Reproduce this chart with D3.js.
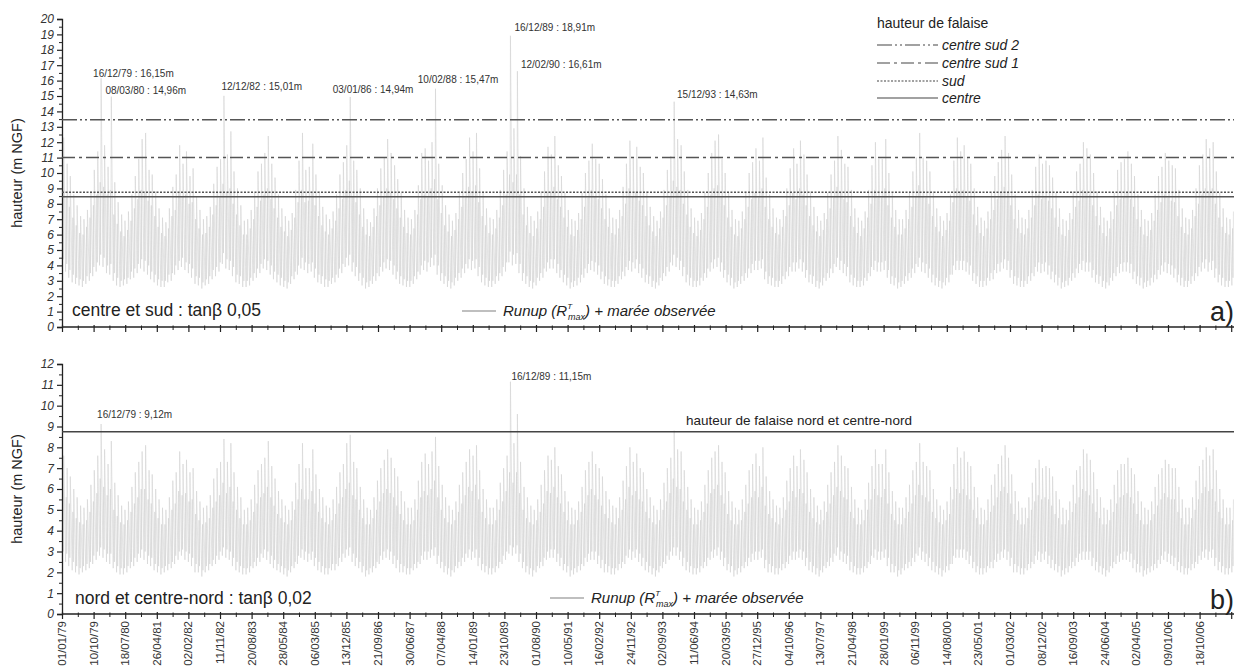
<!DOCTYPE html>
<html><head><meta charset="utf-8">
<script src="https://cdn.jsdelivr.net/npm/d3@7"></script>
<style>
body{margin:0;background:#fff;}
svg{display:block;font-family:"Liberation Sans",Arial,sans-serif;}
</style></head>
<body><svg id="c" width="1234" height="672"></svg>
<script>
// ---------- DATA ----------
const tickLabels = ["01/01/79","10/10/79","18/07/80","26/04/81","02/02/82","11/11/82","20/08/83","28/05/84","06/03/85","13/12/85","21/09/86","30/06/87","07/04/88","14/01/89","23/10/89","01/08/90","10/05/91","16/02/92","24/11/92","02/09/93","11/06/94","20/03/95","27/12/95","04/10/96","13/07/97","21/04/98","28/01/99","06/11/99","14/08/00","23/05/01","01/03/02","08/12/02","16/09/03","24/06/04","02/04/05","09/01/06","18/10/06"];
const seriesStart = "01/01/79";   // first month of the monthly series
const axisEnd = "21/08/07";

// panel a (centre et sud, tanβ 0,05), Jan 1979 → Aug 2007, one row per year
// highest peak of each month
const topMax = [
12.3,10.6,9.8,8.6,7.9,7.2,7.0,7.6,8.8,10.2,11.4,16.15,
11.8,10.4,14.96,9.4,8.1,7.3,6.9,7.5,8.6,9.8,10.9,12.2,
12.6,10.2,9.9,8.8,7.7,7.1,6.8,7.7,9.1,9.9,11.8,10.6,
11.4,9.8,10.3,8.5,7.6,7.0,7.2,7.8,9.3,10.4,10.9,15.01,
11.2,12.7,10.1,9.0,7.9,6.9,7.0,7.6,8.7,10.1,10.6,11.3,
12.4,10.6,9.7,8.6,7.7,7.2,6.9,7.4,8.9,10.8,12.6,10.2,
10.4,11.9,9.9,8.8,7.8,7.3,7.0,7.5,8.6,9.9,10.7,11.8,
14.94,10.8,10.2,9.0,7.7,7.0,6.8,7.7,9.0,10.3,11.0,12.2,
11.3,10.5,9.6,8.7,7.6,7.1,7.0,7.6,9.2,11.3,11.6,10.8,
12.0,15.47,10.6,9.2,7.9,7.3,6.9,7.4,8.8,10.0,10.9,12.3,
11.4,12.6,10.3,8.8,7.7,7.1,7.0,7.6,8.9,10.2,11.4,18.91,
12.9,16.61,11.1,9.0,7.8,7.2,6.9,7.5,8.8,10.1,11.7,11.2,
12.4,10.5,9.8,8.7,7.6,7.0,6.9,7.4,8.7,10.0,10.8,11.9,
10.9,10.6,9.6,8.6,7.7,7.1,7.0,7.6,9.1,10.6,12.1,11.0,
11.7,10.4,10.0,8.8,7.8,7.2,6.9,7.5,8.9,10.2,11.1,14.63,
12.2,11.8,10.1,8.9,7.7,7.1,6.9,7.4,8.7,10.0,11.3,12.1,
12.5,10.9,10.0,8.7,7.6,7.0,6.9,7.5,8.8,10.0,10.7,11.6,
10.8,12.3,9.7,8.6,7.7,7.1,7.0,7.6,9.0,10.3,11.6,10.6,
12.1,11.2,9.9,8.8,7.8,7.2,6.9,7.4,8.7,9.9,10.8,12.4,
11.5,10.6,10.4,8.9,7.7,7.1,6.9,7.5,8.9,10.5,12.0,10.9,
10.9,12.2,10.0,8.7,7.6,7.0,7.0,7.6,8.8,10.1,11.0,12.6,
11.0,10.8,10.1,8.8,7.7,7.2,6.9,7.4,8.6,10.8,12.3,11.4,
11.8,11.0,10.6,9.0,7.8,7.1,6.9,7.5,8.7,9.8,10.7,11.5,
12.4,11.3,9.9,8.6,7.6,7.1,7.0,7.6,8.9,10.4,11.2,10.6,
10.8,10.5,9.7,8.7,7.7,7.0,6.9,7.4,8.8,10.1,10.6,12.0,
11.6,11.2,10.0,8.8,7.8,7.1,6.9,7.5,8.7,10.2,10.7,10.9,
11.4,10.6,9.8,8.6,7.6,7.0,6.9,7.4,8.6,9.8,10.4,11.3,
10.8,10.5,10.3,8.9,7.7,7.1,7.0,7.6,9.0,10.5,11.2,12.2,
11.6,12.0,10.1,8.7,7.7,7.1,7.0,7.5];
// secondary peak of each month
const topMid = [
8.9,8.4,7.8,7.1,6.6,6.1,6.0,6.5,7.1,7.9,8.6,9.4,
9.1,8.6,8.9,7.3,6.7,6.2,5.9,6.3,6.9,7.7,8.3,8.9,
8.8,8.2,7.9,7.2,6.5,6.1,5.9,6.4,7.2,7.6,8.7,8.5,
8.6,8.0,8.1,7.0,6.4,6.0,6.1,6.5,7.3,7.9,8.4,9.3,
8.7,9.0,8.0,7.3,6.6,6.0,6.0,6.4,7.0,7.8,8.2,8.6,
9.0,8.3,7.7,7.1,6.5,6.2,5.9,6.3,7.1,8.1,8.9,8.1,
8.2,8.8,7.9,7.2,6.6,6.2,6.0,6.4,6.9,7.7,8.3,8.9,
9.5,8.5,8.1,7.3,6.5,6.0,5.9,6.5,7.2,7.9,8.5,9.0,
8.7,8.3,7.7,7.1,6.5,6.1,6.0,6.4,7.3,8.3,8.6,8.4,
9.0,9.6,8.3,7.4,6.6,6.2,5.9,6.3,7.0,7.8,8.4,9.1,
8.8,9.2,8.1,7.2,6.6,6.1,6.0,6.4,7.1,7.9,8.6,9.9,
9.4,9.9,8.6,7.3,6.6,6.1,5.9,6.4,7.0,7.8,8.8,8.7,
9.1,8.3,7.8,7.1,6.5,6.0,5.9,6.3,7.0,7.8,8.4,8.9,
8.5,8.3,7.7,7.0,6.5,6.1,6.0,6.4,7.2,8.0,9.0,8.5,
8.8,8.2,7.9,7.2,6.6,6.2,5.9,6.4,7.1,7.9,8.5,9.5,
9.1,8.9,8.0,7.3,6.5,6.1,5.9,6.3,7.0,7.8,8.6,9.0,
9.2,8.5,7.9,7.1,6.5,6.0,5.9,6.4,7.0,7.8,8.3,8.7,
8.4,9.0,7.8,7.0,6.5,6.1,6.0,6.5,7.2,7.9,8.7,8.3,
9.0,8.6,7.9,7.2,6.6,6.2,5.9,6.3,7.0,7.7,8.4,9.1,
8.7,8.3,8.1,7.2,6.5,6.1,5.9,6.4,7.1,8.0,8.9,8.4,
8.4,9.0,7.9,7.1,6.5,6.0,6.0,6.4,7.0,7.8,8.5,9.2,
8.5,8.4,8.0,7.2,6.5,6.2,5.9,6.3,6.9,8.1,9.0,8.7,
8.9,8.5,8.2,7.3,6.6,6.1,5.9,6.4,7.0,7.6,8.3,8.7,
9.1,8.7,7.9,7.0,6.4,6.1,6.0,6.4,7.1,7.9,8.6,8.3,
8.4,8.2,7.7,7.1,6.5,6.0,5.9,6.3,7.0,7.8,8.2,8.9,
8.8,8.6,7.9,7.2,6.6,6.1,5.9,6.4,7.0,7.9,8.3,8.4,
8.7,8.3,7.8,7.0,6.5,6.0,5.9,6.3,6.9,7.6,8.1,8.6,
8.4,8.2,8.1,7.2,6.5,6.1,6.0,6.4,7.2,8.0,8.6,9.0,
8.8,9.0,8.0,7.1,6.5,6.1,6.0,6.4];
// lowest value, first half of each month
const topMin = [
3.8,3.6,3.2,2.9,2.8,2.7,2.6,2.8,3.0,3.3,3.6,4.0,
3.9,3.5,3.4,3.0,2.7,2.6,2.7,2.8,3.1,3.2,3.5,3.8,
3.6,3.4,3.1,2.9,2.7,2.6,2.6,2.9,3.0,3.4,3.7,3.9,
3.7,3.5,3.2,2.8,2.7,2.5,2.7,2.8,3.1,3.3,3.6,4.1,
3.8,3.7,3.3,2.9,2.8,2.6,2.6,2.7,3.0,3.2,3.5,3.8,
3.7,3.4,3.1,2.9,2.7,2.6,2.5,2.8,3.1,3.4,3.8,3.7,
3.5,3.6,3.2,2.9,2.8,2.6,2.6,2.8,2.9,3.2,3.5,3.9,
4.0,3.6,3.3,3.0,2.7,2.5,2.6,2.8,3.0,3.3,3.6,3.8,
3.7,3.4,3.1,2.8,2.7,2.6,2.6,2.8,3.1,3.4,3.7,3.6,
3.9,4.0,3.4,3.0,2.8,2.6,2.5,2.7,3.0,3.2,3.5,3.8,
3.7,3.8,3.3,2.9,2.7,2.6,2.6,2.8,3.0,3.3,3.6,4.2,
4.0,4.1,3.5,3.0,2.8,2.6,2.5,2.7,3.0,3.2,3.6,3.8,
3.8,3.5,3.2,2.9,2.7,2.5,2.6,2.7,2.9,3.2,3.5,3.7,
3.6,3.4,3.1,2.8,2.7,2.6,2.6,2.8,3.1,3.3,3.7,3.6,
3.8,3.5,3.2,2.9,2.8,2.6,2.5,2.7,3.0,3.3,3.6,4.0,
3.9,3.7,3.3,2.9,2.7,2.6,2.6,2.7,3.0,3.2,3.6,3.8,
3.9,3.6,3.2,2.9,2.7,2.5,2.6,2.8,3.0,3.2,3.5,3.7,
3.7,3.8,3.1,2.8,2.7,2.6,2.6,2.8,3.1,3.3,3.6,3.6,
3.8,3.6,3.2,2.9,2.8,2.6,2.5,2.7,3.0,3.2,3.5,3.9,
3.7,3.5,3.3,2.9,2.7,2.6,2.6,2.7,3.0,3.3,3.7,3.6,
3.6,3.7,3.2,2.8,2.7,2.5,2.6,2.8,3.0,3.2,3.5,3.9,
3.6,3.5,3.2,2.9,2.7,2.6,2.5,2.7,2.9,3.4,3.7,3.7,
3.7,3.6,3.4,3.0,2.8,2.6,2.6,2.7,3.0,3.1,3.5,3.6,
3.8,3.7,3.2,2.8,2.7,2.6,2.6,2.8,3.0,3.3,3.6,3.5,
3.6,3.4,3.1,2.9,2.7,2.5,2.6,2.7,3.0,3.2,3.5,3.7,
3.6,3.6,3.2,2.9,2.8,2.6,2.5,2.7,3.0,3.3,3.5,3.6,
3.6,3.5,3.1,2.8,2.7,2.5,2.6,2.7,2.9,3.1,3.4,3.6,
3.5,3.4,3.2,2.9,2.7,2.6,2.6,2.8,3.0,3.3,3.6,3.8,
3.6,3.7,3.2,2.9,2.7,2.6,2.6,2.7];
// lowest value, second half of each month
const topLow2 = [
4.4,4.1,3.7,3.4,3.2,3.1,3.0,3.3,3.5,3.9,4.2,4.7,
4.5,4.0,4.1,3.5,3.2,3.0,3.1,3.2,3.6,3.8,4.1,4.4,
4.3,4.0,3.6,3.4,3.1,3.0,3.0,3.4,3.5,4.0,4.3,4.5,
4.2,4.1,3.8,3.3,3.2,2.9,3.1,3.3,3.7,3.9,4.2,4.8,
4.4,4.3,3.9,3.4,3.3,3.0,3.0,3.2,3.5,3.8,4.1,4.4,
4.3,4.0,3.6,3.4,3.2,3.0,2.9,3.3,3.6,4.0,4.5,4.2,
4.1,4.2,3.8,3.4,3.3,3.1,3.0,3.2,3.4,3.8,4.1,4.5,
4.7,4.2,3.9,3.5,3.2,2.9,3.0,3.3,3.5,3.9,4.2,4.4,
4.3,4.0,3.6,3.3,3.1,3.0,3.0,3.3,3.6,4.0,4.3,4.2,
4.5,4.7,4.0,3.5,3.3,3.0,2.9,3.2,3.5,3.8,4.1,4.4,
4.3,4.4,3.9,3.4,3.2,3.0,3.0,3.3,3.5,3.9,4.2,4.9,
4.7,4.8,4.1,3.5,3.3,3.0,2.9,3.2,3.5,3.8,4.2,4.4,
4.4,4.1,3.7,3.4,3.2,2.9,3.0,3.2,3.4,3.8,4.1,4.3,
4.2,4.0,3.6,3.3,3.1,3.0,3.0,3.3,3.6,3.9,4.3,4.2,
4.4,4.1,3.8,3.4,3.3,3.0,2.9,3.2,3.5,3.9,4.2,4.7,
4.5,4.3,3.9,3.4,3.2,3.0,3.0,3.2,3.5,3.8,4.2,4.4,
4.5,4.2,3.7,3.4,3.2,2.9,3.0,3.3,3.5,3.8,4.1,4.3,
4.3,4.4,3.6,3.3,3.2,3.0,3.0,3.3,3.6,3.9,4.2,4.2,
4.4,4.2,3.7,3.4,3.3,3.0,2.9,3.2,3.5,3.8,4.1,4.5,
4.3,4.1,3.9,3.4,3.2,3.0,3.0,3.2,3.5,3.9,4.3,4.2,
4.2,4.3,3.7,3.3,3.2,2.9,3.0,3.3,3.5,3.8,4.1,4.5,
4.2,4.1,3.8,3.4,3.2,3.0,2.9,3.2,3.4,4.0,4.3,4.3,
4.3,4.2,4.0,3.5,3.3,3.0,3.0,3.2,3.5,3.7,4.1,4.2,
4.4,4.3,3.7,3.3,3.2,3.0,3.0,3.3,3.5,3.9,4.2,4.1,
4.2,4.0,3.6,3.4,3.2,2.9,3.0,3.2,3.5,3.8,4.1,4.3,
4.2,4.2,3.7,3.4,3.3,3.0,2.9,3.2,3.5,3.9,4.1,4.2,
4.2,4.1,3.6,3.3,3.2,2.9,3.0,3.2,3.4,3.7,4.0,4.2,
4.1,4.0,3.8,3.4,3.2,3.0,3.0,3.3,3.5,3.9,4.2,4.4,
4.2,4.3,3.8,3.4,3.2,3.0,3.0,3.2];

// panel b (nord et centre-nord, tanβ 0,02)
const botMax = [
7.6,7.0,6.6,6.0,5.6,5.2,5.1,5.5,6.2,6.9,7.6,9.12,
7.9,7.2,8.3,6.3,5.7,5.2,5.0,5.4,6.1,6.8,7.3,7.8,
8.1,6.9,6.7,6.0,5.5,5.1,5.0,5.6,6.4,6.8,7.8,7.2,
7.4,6.8,7.0,5.9,5.4,5.1,5.2,5.7,6.5,7.0,7.3,8.4,
7.3,8.2,6.8,6.1,5.6,5.0,5.1,5.5,6.2,6.9,7.2,7.5,
8.3,7.1,6.5,5.9,5.5,5.2,5.0,5.4,6.3,7.2,8.2,7.0,
7.0,7.9,6.7,6.0,5.6,5.2,5.1,5.5,6.1,6.8,7.2,8.2,
8.6,7.3,7.0,6.1,5.5,5.1,5.0,5.6,6.4,7.0,7.4,7.9,
7.5,7.0,6.6,5.9,5.4,5.1,5.1,5.5,6.4,7.3,7.7,7.2,
7.8,8.5,7.1,6.2,5.6,5.2,5.0,5.4,6.2,6.8,7.3,7.9,
7.6,8.1,6.9,6.0,5.5,5.1,5.1,5.5,6.3,7.0,7.6,11.15,
8.2,9.6,7.3,6.1,5.6,5.2,5.0,5.5,6.2,6.9,7.6,7.4,
8.0,7.1,6.7,5.9,5.4,5.1,5.0,5.4,6.1,6.9,7.3,7.8,
7.2,7.0,6.6,5.9,5.5,5.2,5.1,5.6,6.4,7.1,8.0,7.3,
7.7,7.0,6.8,6.0,5.6,5.2,5.0,5.5,6.3,7.0,7.5,8.8,
7.9,7.8,6.9,6.1,5.5,5.1,5.0,5.4,6.2,6.9,7.5,7.8,
8.1,7.3,6.8,5.9,5.4,5.1,5.0,5.5,6.2,6.9,7.2,7.7,
7.1,8.0,6.6,5.9,5.5,5.2,5.1,5.6,6.4,7.0,7.6,7.1,
7.9,7.4,6.8,6.0,5.6,5.2,5.0,5.4,6.2,6.8,7.3,8.1,
7.6,7.1,7.0,6.1,5.5,5.1,5.0,5.5,6.3,7.1,7.9,7.2,
7.2,7.9,6.8,5.9,5.4,5.1,5.1,5.6,6.2,6.9,7.3,8.2,
7.3,7.1,6.9,6.0,5.5,5.2,5.0,5.4,6.1,7.2,8.0,7.5,
7.8,7.3,7.1,6.1,5.6,5.1,5.0,5.5,6.2,6.7,7.2,7.6,
8.1,7.5,6.7,5.9,5.4,5.1,5.1,5.6,6.3,7.0,7.4,7.0,
7.1,7.0,6.6,5.9,5.5,5.1,5.0,5.4,6.2,6.9,7.1,7.9,
7.7,7.4,6.8,6.0,5.6,5.1,5.0,5.5,6.2,6.9,7.2,7.2,
7.5,7.0,6.7,5.9,5.4,5.1,5.0,5.4,6.1,6.7,7.0,7.4,
7.2,7.0,7.0,6.1,5.5,5.1,5.1,5.6,6.4,7.1,7.4,8.0,
7.6,7.9,6.9,6.0,5.5,5.1,5.1,5.5];
const botMid = [
5.9,5.6,5.3,4.9,4.6,4.4,4.3,4.5,4.9,5.4,5.8,6.5,
6.1,5.7,6.0,5.0,4.7,4.4,4.3,4.5,4.9,5.3,5.6,6.0,
6.0,5.5,5.3,4.9,4.6,4.3,4.3,4.6,5.0,5.3,5.9,5.7,
5.8,5.4,5.5,4.8,4.5,4.3,4.4,4.6,5.1,5.4,5.7,6.3,
5.8,6.1,5.4,5.0,4.6,4.3,4.3,4.5,4.9,5.3,5.6,5.8,
6.1,5.6,5.2,4.8,4.6,4.4,4.3,4.5,5.0,5.5,6.0,5.5,
5.5,5.9,5.3,4.9,4.6,4.4,4.3,4.5,4.8,5.3,5.6,6.0,
6.3,5.7,5.5,5.0,4.6,4.3,4.3,4.6,5.0,5.4,5.8,6.0,
5.8,5.6,5.2,4.8,4.5,4.3,4.3,4.5,5.0,5.6,5.9,5.7,
6.0,6.4,5.6,5.0,4.6,4.4,4.3,4.5,4.9,5.3,5.7,6.1,
5.9,6.2,5.5,4.9,4.6,4.3,4.3,4.5,5.0,5.4,5.9,6.8,
6.3,6.8,5.8,5.0,4.6,4.4,4.3,4.5,4.9,5.3,5.9,5.8,
6.1,5.6,5.3,4.9,4.5,4.3,4.3,4.5,4.9,5.3,5.7,6.0,
5.7,5.5,5.2,4.8,4.6,4.4,4.3,4.6,5.0,5.5,6.1,5.7,
5.9,5.5,5.4,4.9,4.6,4.4,4.3,4.5,5.0,5.4,5.8,6.5,
6.1,6.0,5.4,5.0,4.6,4.3,4.3,4.5,4.9,5.3,5.8,6.0,
6.2,5.7,5.3,4.8,4.5,4.3,4.3,4.5,4.9,5.3,5.6,5.9,
5.6,6.1,5.2,4.8,4.6,4.4,4.3,4.6,5.0,5.4,5.9,5.6,
6.0,5.8,5.3,4.9,4.6,4.4,4.3,4.5,4.9,5.3,5.7,6.1,
5.9,5.6,5.5,4.9,4.6,4.3,4.3,4.5,5.0,5.5,6.0,5.7,
5.6,6.0,5.3,4.8,4.5,4.3,4.3,4.6,4.9,5.3,5.7,6.2,
5.7,5.6,5.4,4.9,4.6,4.4,4.3,4.5,4.8,5.5,6.0,5.8,
6.0,5.7,5.5,5.0,4.6,4.3,4.3,4.5,4.9,5.2,5.6,5.9,
6.1,5.8,5.3,4.8,4.5,4.3,4.3,4.6,5.0,5.4,5.7,5.5,
5.6,5.5,5.2,4.8,4.6,4.3,4.3,4.5,4.9,5.3,5.6,6.0,
5.9,5.7,5.3,4.9,4.6,4.3,4.3,4.5,4.9,5.3,5.6,5.7,
5.8,5.6,5.3,4.8,4.5,4.3,4.3,4.5,4.8,5.2,5.5,5.8,
5.6,5.5,5.5,4.9,4.6,4.3,4.3,4.6,5.0,5.5,5.8,6.1,
5.9,6.0,5.4,4.9,4.6,4.3,4.3,4.5];
const botMin = [
2.6,2.5,2.3,2.1,2.0,1.9,2.0,2.1,2.2,2.4,2.6,2.8,
2.7,2.5,2.4,2.2,2.0,1.9,1.9,2.0,2.2,2.3,2.5,2.7,
2.6,2.4,2.3,2.1,2.0,1.9,2.0,2.1,2.2,2.4,2.6,2.8,
2.6,2.5,2.3,2.0,2.0,1.8,2.0,2.1,2.3,2.4,2.6,2.8,
2.7,2.6,2.3,2.1,2.0,1.9,1.9,2.0,2.2,2.3,2.5,2.7,
2.6,2.4,2.2,2.1,2.0,1.9,1.8,2.0,2.2,2.4,2.7,2.6,
2.5,2.6,2.3,2.1,2.0,1.9,1.9,2.1,2.1,2.3,2.5,2.7,
2.8,2.5,2.3,2.2,2.0,1.8,1.9,2.0,2.2,2.4,2.6,2.7,
2.6,2.4,2.2,2.0,2.0,1.9,1.9,2.1,2.2,2.4,2.6,2.6,
2.7,2.8,2.4,2.2,2.0,1.9,1.8,2.0,2.2,2.3,2.5,2.7,
2.6,2.7,2.3,2.1,2.0,1.9,1.9,2.0,2.2,2.4,2.6,2.9,
2.8,2.9,2.5,2.2,2.0,1.9,1.8,2.0,2.2,2.3,2.6,2.7,
2.7,2.5,2.3,2.1,2.0,1.8,1.9,2.0,2.1,2.3,2.5,2.6,
2.6,2.4,2.2,2.0,2.0,1.9,1.9,2.1,2.2,2.4,2.7,2.6,
2.7,2.5,2.3,2.1,2.0,1.9,1.8,2.0,2.2,2.4,2.6,2.8,
2.8,2.6,2.3,2.1,2.0,1.9,1.9,2.0,2.2,2.3,2.6,2.7,
2.8,2.6,2.3,2.1,2.0,1.8,1.9,2.0,2.2,2.3,2.5,2.6,
2.6,2.7,2.2,2.0,2.0,1.9,1.9,2.1,2.2,2.4,2.6,2.6,
2.7,2.6,2.3,2.1,2.0,1.9,1.8,2.0,2.2,2.3,2.5,2.8,
2.6,2.5,2.4,2.1,2.0,1.9,1.9,2.0,2.2,2.4,2.7,2.6,
2.6,2.7,2.3,2.0,2.0,1.8,1.9,2.1,2.2,2.3,2.5,2.8,
2.6,2.5,2.3,2.1,2.0,1.9,1.8,2.0,2.1,2.4,2.7,2.7,
2.7,2.6,2.4,2.2,2.0,1.9,1.9,2.0,2.2,2.2,2.5,2.6,
2.7,2.6,2.3,2.0,2.0,1.9,1.9,2.1,2.2,2.4,2.6,2.5,
2.6,2.4,2.2,2.1,2.0,1.8,1.9,2.0,2.2,2.3,2.5,2.6,
2.6,2.6,2.3,2.1,2.0,1.9,1.8,2.0,2.2,2.4,2.5,2.6,
2.6,2.5,2.2,2.0,2.0,1.8,1.9,2.0,2.1,2.2,2.4,2.6,
2.5,2.4,2.3,2.1,2.0,1.9,1.9,2.1,2.2,2.4,2.6,2.7,
2.6,2.7,2.3,2.1,2.0,1.9,1.9,2.0];
const botLow2 = [
3.0,2.9,2.7,2.5,2.3,2.2,2.3,2.4,2.5,2.8,3.0,3.2,
3.1,2.9,2.9,2.5,2.3,2.2,2.2,2.3,2.5,2.7,2.9,3.1,
3.0,2.8,2.7,2.4,2.3,2.2,2.3,2.4,2.5,2.8,3.0,3.1,
3.0,2.9,2.7,2.4,2.3,2.1,2.3,2.4,2.6,2.8,3.0,3.2,
3.1,3.0,2.7,2.5,2.3,2.2,2.2,2.3,2.5,2.7,2.9,3.1,
3.0,2.8,2.6,2.4,2.3,2.2,2.1,2.3,2.5,2.8,3.1,3.0,
2.9,3.0,2.7,2.5,2.3,2.2,2.2,2.4,2.4,2.7,2.9,3.1,
3.2,2.9,2.7,2.5,2.3,2.1,2.2,2.3,2.5,2.8,3.0,3.1,
3.0,2.8,2.6,2.4,2.3,2.2,2.2,2.4,2.5,2.8,3.0,3.0,
3.1,3.2,2.8,2.5,2.3,2.2,2.1,2.3,2.5,2.7,2.9,3.1,
3.0,3.1,2.7,2.4,2.3,2.2,2.2,2.3,2.5,2.8,3.0,3.3,
3.2,3.3,2.9,2.5,2.3,2.2,2.1,2.3,2.5,2.7,3.0,3.1,
3.1,2.9,2.7,2.4,2.3,2.1,2.2,2.3,2.4,2.7,2.9,3.0,
3.0,2.8,2.6,2.4,2.3,2.2,2.2,2.4,2.5,2.8,3.1,3.0,
3.1,2.9,2.7,2.5,2.3,2.2,2.1,2.3,2.5,2.8,3.0,3.2,
3.2,3.0,2.7,2.5,2.3,2.2,2.2,2.3,2.5,2.7,3.0,3.1,
3.2,3.0,2.7,2.4,2.3,2.1,2.2,2.3,2.5,2.7,2.9,3.0,
3.0,3.1,2.6,2.4,2.3,2.2,2.2,2.4,2.5,2.8,3.0,3.0,
3.1,3.0,2.7,2.5,2.3,2.2,2.1,2.3,2.5,2.7,2.9,3.2,
3.0,2.9,2.8,2.5,2.3,2.2,2.2,2.3,2.5,2.8,3.1,3.0,
3.0,3.1,2.7,2.4,2.3,2.1,2.2,2.4,2.5,2.7,2.9,3.2,
3.0,2.9,2.7,2.5,2.3,2.2,2.1,2.3,2.4,2.8,3.1,3.1,
3.1,3.0,2.8,2.5,2.3,2.2,2.2,2.3,2.5,2.6,2.9,3.0,
3.1,3.0,2.7,2.4,2.3,2.2,2.2,2.4,2.5,2.8,3.0,2.9,
3.0,2.8,2.6,2.4,2.3,2.1,2.2,2.3,2.5,2.7,2.9,3.0,
3.0,3.0,2.7,2.5,2.3,2.2,2.1,2.3,2.5,2.8,2.9,3.0,
3.0,2.9,2.6,2.4,2.3,2.1,2.2,2.3,2.4,2.6,2.8,3.0,
2.9,2.8,2.7,2.5,2.3,2.2,2.2,2.4,2.5,2.8,3.0,3.1,
3.0,3.1,2.7,2.5,2.3,2.2,2.2,2.3];

// cliff heights (m NGF)
const cliffNames = ["centre sud 2","centre sud 1","sud","centre"];
const cliffHeights = [13.45, 11.0, 8.75, 8.45];
const cliffNordName = "hauteur de falaise nord et centre-nord";
const cliffNordHeight = 8.75;

// annotated maxima
const topPeakDates  = ["16/12/79","08/03/80","12/12/82","03/01/86","10/02/88","16/12/89","12/02/90","15/12/93"];
const topPeakValues = [16.15,14.96,15.01,14.94,15.47,18.91,16.61,14.63];
const botPeakDates  = ["16/12/79","16/12/89"];
const botPeakValues = [9.12,11.15];

const topYTicks = d3.range(0, 21, 1);
const botYTicks = d3.range(0, 13, 1);

// ---------- LAYOUT ----------
const svg = d3.select("#c");
const W = 1234;
const left = 62;
const A = {top: 19, bottom: 327, max: 20};
const B = {top: 364, bottom: 614, max: 12};
const parse = d3.utcParse("%d/%m/%y");
const fmtVal = v => v.toFixed(2).replace(".", ",") + "m";

const x = d3.scaleUtc().domain([parse(seriesStart), parse(axisEnd)]).range([left, W]);
const yA = d3.scaleLinear().domain([0, A.max]).range([A.bottom, A.top]);
const yB = d3.scaleLinear().domain([0, B.max]).range([B.bottom, B.top]);

const t0 = parse(seriesStart);
// each month: low (1st half) → secondary peak → low (2nd half) → highest peak
function monthly(maxArr, midArr, minArr, low2Arr){
  const pts = [];
  maxArr.forEach((mx, i) => {
    const y0 = t0.getUTCFullYear(), m0 = t0.getUTCMonth() + i;
    pts.push({d: new Date(Date.UTC(y0, m0, 2)),  v: minArr[i]});
    pts.push({d: new Date(Date.UTC(y0, m0, 8)),  v: midArr[i]});
    pts.push({d: new Date(Date.UTC(y0, m0, 12)), v: low2Arr[i]});
    pts.push({d: new Date(Date.UTC(y0, m0, 16)), v: mx});
  });
  return pts;
}

const majorDates = tickLabels.map(parse);
const step = majorDates[1] - majorDates[0];
const minorDates = [];
majorDates.forEach(a => { const m = new Date(+a + step / 2); if (x(m) <= W) minorDates.push(m); });
const nextMajor = new Date(+majorDates[majorDates.length-1] + step);

function drawPanel(P, y, yTicks, series){
  const g = svg.append("g");
  const line = d3.line().x(p => x(p.d)).y(p => y(p.v));
  g.append("path").datum(monthly(...series))
    .attr("d", line).attr("fill", "none")
    .attr("stroke", "#d2d2d2").attr("stroke-width", 0.6);
  const yAxis = d3.axisLeft(y).tickValues(yTicks).tickSize(5).tickFormat(d3.format("d"));
  const ga = g.append("g").attr("transform", `translate(${left},0)`).call(yAxis);
  ga.select(".domain").attr("stroke", "#222").attr("stroke-width", 1.3);
  ga.selectAll(".tick line").attr("stroke", "#222").attr("stroke-width", 1.2);
  ga.selectAll(".tick text").attr("font-size", 12).attr("font-style", "italic")
    .attr("fill", "#333").attr("x", -8).attr("font-family", '"Liberation Sans",Arial,sans-serif');
  const yMinor = yTicks.slice(0, -1).map(v => v + 0.5);
  g.append("g").attr("transform", `translate(${left},0)`)
    .call(d3.axisLeft(y).tickValues(yMinor).tickSize(3).tickFormat(""))
    .call(s => { s.select(".domain").remove(); s.selectAll("line").attr("stroke", "#222"); });
  const gx = g.append("g").attr("transform", `translate(0,${P.bottom})`);
  gx.call(d3.axisBottom(x).tickValues(majorDates.concat(x(nextMajor) <= W ? [nextMajor] : [])).tickSize(5).tickFormat(""));
  gx.select(".domain").attr("stroke", "#222").attr("stroke-width", 1.5).attr("d", `M${left},0H${W}`);
  gx.selectAll(".tick line").attr("stroke", "#222").attr("stroke-width", 1.2).attr("y1", -2);
  gx.append("g").call(d3.axisBottom(x).tickValues(minorDates).tickSize(3).tickFormat(""))
    .call(s => { s.select(".domain").remove(); s.selectAll("line").attr("stroke", "#222").attr("y1", -1.5); });
  g.append("text")
    .attr("transform", `translate(22,${(P.top + P.bottom) / 2}) rotate(-90)`)
    .attr("text-anchor", "middle").attr("font-size", 14.5).attr("fill", "#222")
    .text("hauteur (m NGF)");
  return g;
}

const gA = drawPanel(A, yA, topYTicks, [topMax, topMid, topMin, topLow2]);
const gB = drawPanel(B, yB, botYTicks, [botMax, botMid, botMin, botLow2]);

// cliff lines panel a
const dashes = ["15,3,2,3,2,3", "13,4,3,4", "2,1.5", null];
cliffHeights.forEach((h, i) => {
  gA.append("line").attr("x1", left).attr("x2", W).attr("y1", yA(h)).attr("y2", yA(h))
    .attr("stroke", "#555").attr("stroke-width", 1.5)
    .attr("stroke-dasharray", dashes[i]);
});
gB.append("line").attr("x1", left).attr("x2", W).attr("y1", yB(cliffNordHeight)).attr("y2", yB(cliffNordHeight))
  .attr("stroke", "#444").attr("stroke-width", 1.5);
gB.append("text").attr("x", 686).attr("y", yB(cliffNordHeight) - 7)
  .attr("font-size", 13.5).attr("fill", "#222").text(cliffNordName);

// legend panel a
const lg = svg.append("g");
lg.append("text").attr("x", 877).attr("y", 28).attr("font-size", 14).attr("fill", "#222").text("hauteur de falaise");
const legY = [45, 63, 81, 98];
cliffNames.forEach((n, i) => {
  lg.append("line").attr("x1", 877).attr("x2", 938).attr("y1", legY[i]).attr("y2", legY[i])
    .attr("stroke", "#444").attr("stroke-width", 1.2).attr("stroke-dasharray", dashes[i]);
  lg.append("text").attr("x", 942).attr("y", legY[i] + 5).attr("font-size", 14)
    .attr("font-style", "italic").attr("fill", "#222").text(n);
});

// annotations
const topDx = [-8, -5, -2, -16, -17, 4, 4, 3];
const topDy = [-1, -3, -6, -4, -6, -5, -3, -4];
topPeakDates.forEach((d, i) => {
  gA.append("text").attr("x", x(parse(d)) + topDx[i]).attr("y", yA(topPeakValues[i]) + topDy[i])
    .attr("font-size", 10).attr("fill", "#333").text(`${d} : ${fmtVal(topPeakValues[i])}`);
});
const botDx = [-4, 1];
const botDy = [-6, -2];
botPeakDates.forEach((d, i) => {
  gB.append("text").attr("x", x(parse(d)) + botDx[i]).attr("y", yB(botPeakValues[i]) + botDy[i])
    .attr("font-size", 10).attr("fill", "#333").text(`${d} : ${fmtVal(botPeakValues[i])}`);
});

// series legends
function runupLegend(g, x0, yy){
  g.append("line").attr("x1", x0).attr("x2", x0 + 34).attr("y1", yy).attr("y2", yy)
    .attr("stroke", "#aaa").attr("stroke-width", 1.5);
  const t = g.append("text").attr("x", x0 + 41).attr("y", yy + 5).attr("font-size", 15)
    .attr("font-style", "italic").attr("fill", "#222");
  t.append("tspan").text("Runup (R");
  t.append("tspan").attr("font-size", 8).attr("dy", -7).text("T");
  t.append("tspan").attr("font-size", 9).attr("dy", 11).attr("dx", -4).text("max");
  t.append("tspan").attr("dy", -4).text(") + marée observée");
}
runupLegend(gA, 462, 311);
runupLegend(gB, 550, 598);

// panel titles
gA.append("text").attr("x", 72).attr("y", 316).attr("font-size", 17.5).attr("fill", "#222").text("centre et sud : tanβ 0,05");
gB.append("text").attr("x", 75).attr("y", 604).attr("font-size", 17.5).attr("fill", "#222").text("nord et centre-nord : tanβ 0,02");
gA.append("text").attr("x", 1210).attr("y", 321).attr("font-size", 27).attr("fill", "#222").text("a)");
gB.append("text").attr("x", 1210).attr("y", 609).attr("font-size", 27).attr("fill", "#222").text("b)");

// bottom date labels
svg.append("g").selectAll("text").data(majorDates).join("text")
  .attr("transform", d => `translate(${x(d) + 4},${B.bottom + 7}) rotate(-90)`)
  .attr("text-anchor", "end").attr("font-size", 11.5).attr("fill", "#333")
  .text((d, i) => tickLabels[i]);
</script></body></html>
